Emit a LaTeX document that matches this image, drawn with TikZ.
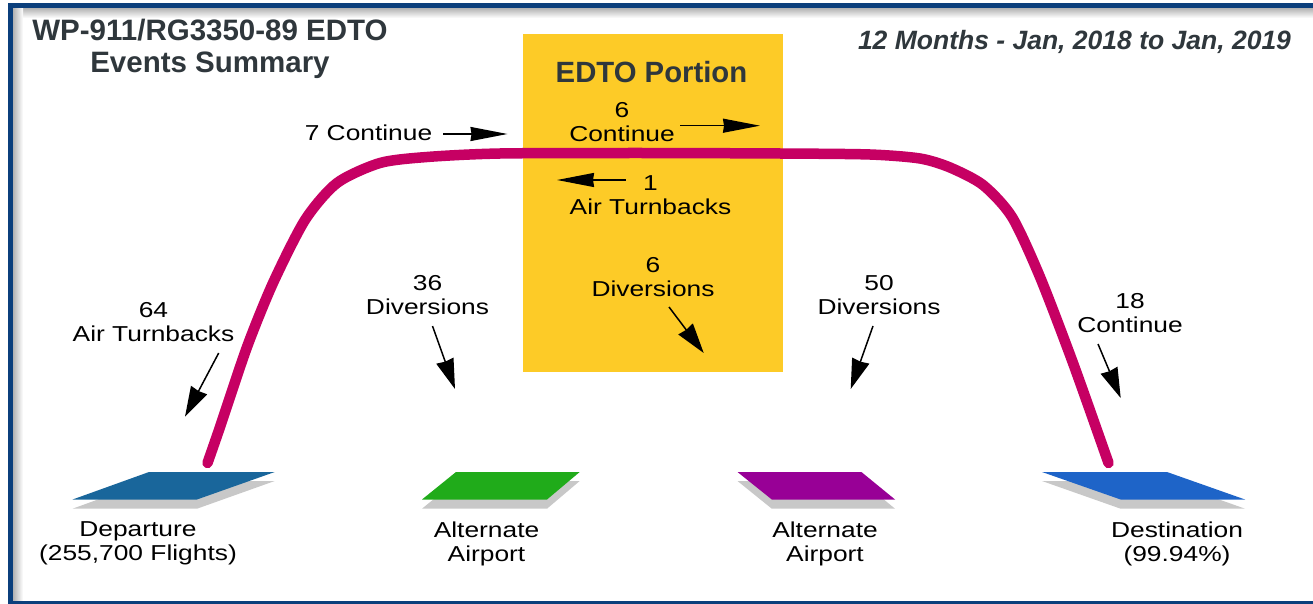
\documentclass[tikz,border=0pt]{standalone}
\usepackage{fontspec}
\setmainfont{Liberation Sans}
\newfontfamily\lblfont[FakeStretch=1.22]{Liberation Sans}
\usetikzlibrary{arrows.meta}
\definecolor{frameblue}{HTML}{0B3F7C}
\definecolor{titlegrey}{HTML}{2F373C}
\definecolor{edtoyellow}{HTML}{FDCB27}
\definecolor{routepink}{HTML}{C60063}
\definecolor{padshadow}{HTML}{C8C8C8}
\definecolor{depblue}{HTML}{19669B}
\definecolor{altgreen}{HTML}{20AB1A}
\definecolor{altpurple}{HTML}{980096}
\definecolor{destblue}{HTML}{1E64C8}
\tikzset{
  x=1pt,y=-1pt,
  lbl/.style={align=center,inner sep=0pt,font=\lblfont\fontsize{21.6}{24}\selectfont,text=black},
  ttl/.style={align=center,inner sep=0pt,text=titlegrey,font=\fontsize{29.5}{31.5}\selectfont\bfseries},
  harrow/.style={draw=black,line width=1.5pt,-{Stealth[length=37pt,width=14pt,inset=1pt]}},
  darrow/.style={draw=black,line width=1.5pt,-{Stealth[length=30pt,width=18pt,inset=1pt]}},
  route/.style={draw=routepink,line width=10.5pt,line cap=round,line join=round},
}
\begin{document}
\begin{tikzpicture}
\useasboundingbox (0,0) rectangle (1313,604);
\fill[white] (0,0) rectangle (1313,604);
% soft inner shadow of the frame
\shade[top color=black!30,bottom color=white] (13,8) rectangle (1313,18);
\shade[left color=black!30,right color=white] (13,8) rectangle (23,601);
% frame
\draw[frameblue,line width=5pt] (10.5,604) -- (10.5,5.5) -- (1313,5.5);
\draw[frameblue,line width=3pt] (8,602.5) -- (1313,602.5);
% EDTO box
\node[fill=edtoyellow,minimum width=259.7pt,minimum height=337.4pt,inner sep=0pt,anchor=north west] (box) at (523,34.3) {};
% route
\draw[route] plot[smooth,tension=0.45] coordinates {(207.5,463) (220,427) (247,347) (273,283) (305,220) (337,183) (380,163) (427,157) (500,153.5) (640,153) (780,153.5) (870,154.5) (920,158.5) (950,167.5) (983,185) (1012,217) (1040,277) (1073,363) (1108.5,463)};
% pads
\fill[padshadow] (72.6,508.7) -- (149,481) -- (274.7,481) -- (197,508.7) -- cycle;
\fill[depblue] (72.6,499.5) -- (149,472) -- (274.7,472) -- (197,499.5) -- cycle;
\fill[padshadow] (422,508.7) -- (456,481) -- (579.7,481) -- (547,508.7) -- cycle;
\fill[altgreen] (422,499.5) -- (456,472) -- (579.7,472) -- (547,499.5) -- cycle;
\fill[padshadow] (737.5,481) -- (861.4,481) -- (895,508.7) -- (771.8,508.7) -- cycle;
\fill[altpurple] (737.5,472) -- (861.4,472) -- (895,499.5) -- (771.8,499.5) -- cycle;
\fill[padshadow] (1042,481) -- (1167,481) -- (1245,508.7) -- (1120.6,508.7) -- cycle;
\fill[destblue] (1042,472) -- (1167,472) -- (1245,499.5) -- (1120.6,499.5) -- cycle;
% titles
\node[ttl] (t1) at (210,49) {WP-911/RG3350-89 EDTO\\Events Summary};
\node[inner sep=0pt,text=titlegrey,font=\fontsize{26.5}{28}\selectfont\bfseries\itshape] (t2) at (1074.5,42) {12 Months - Jan, 2018 to Jan, 2019};
\node[inner sep=0pt,text=titlegrey,font=\fontsize{29.3}{31}\selectfont\bfseries] (t3) at (651.5,72) {EDTO Portion};
% labels
\node[lbl] (l7) at (368.5,133) {7 Continue};
\node[lbl] (l6c) at (622,122) {6\\Continue};
\node[lbl] (l1) at (650.5,195) {1\\Air Turnbacks};
\node[lbl] (l6d) at (653,277) {6\\Diversions};
\node[lbl] (l36) at (427.5,295) {36\\Diversions};
\node[lbl] (l50) at (879,295) {50\\Diversions};
\node[lbl] (l64) at (153.5,322) {64\\Air Turnbacks};
\node[lbl] (l18) at (1130,313) {18\\Continue};
\node[lbl] (ld) at (138,543.5) {Departure\\(255,700 Flights)};
\node[lbl] (la1) at (486.5,543.5) {Alternate\\Airport};
\node[lbl] (la2) at (825,543.5) {Alternate\\Airport};
\node[lbl] (lz) at (1177,543.5) {Destination\\(99.94\%)};
% arrows
\coordinate (a7s) at (443,134); \coordinate (a7e) at (507.5,134);
\coordinate (a6s) at (680,125.7); \coordinate (a6e) at (760,125.7);
\coordinate (a1s) at (625.7,180); \coordinate (a1e) at (557,180);
\coordinate (a64s) at (218.7,353); \coordinate (a64e) at (185,416.7);
\coordinate (a36s) at (432.5,326); \coordinate (a36e) at (455,389);
\coordinate (a6ds) at (669,307); \coordinate (a6de) at (703.7,353);
\coordinate (a50s) at (873,326); \coordinate (a50e) at (850.7,389);
\coordinate (a18s) at (1098,344); \coordinate (a18e) at (1120.7,398);
\foreach \n in {7,6,1}{\draw[harrow] (a\n s) -- (a\n e);}
\foreach \n in {64,36,6d,50,18}{\draw[darrow] (a\n s) -- (a\n e);}
\end{tikzpicture}
\end{document}
